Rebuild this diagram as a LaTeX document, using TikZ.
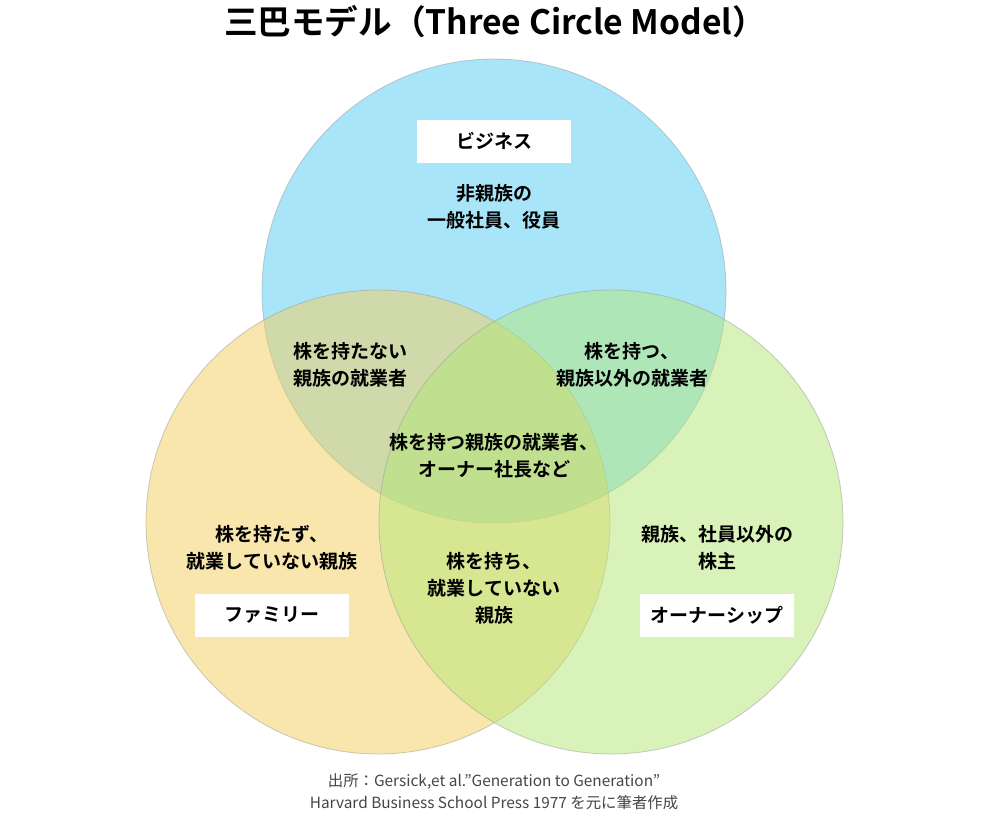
\documentclass[tikz,border=0pt]{standalone}
\usepackage{fontspec}
\newfontfamily\jpfont[BoldFont={Noto Sans CJK JP Bold}]{Noto Sans CJK JP}
\definecolor{bizblue}{RGB}{85,205,245}
\definecolor{famyellow}{RGB}{245,207,90}
\definecolor{owngreen}{RGB}{181,231,119}
\definecolor{notegray}{RGB}{70,70,70}
\begin{document}
\begin{tikzpicture}[x=1pt,y=-1pt,
  ring/.style={circle, minimum size=464pt, inner sep=0pt, draw=black!40, draw opacity=0.5, line width=0.8pt, fill opacity=0.5},
  tag/.style={fill=white, minimum width=154pt, minimum height=43pt, inner sep=0pt, font=\jpfont\bfseries\fontsize{19}{27}\selectfont},
  txt/.style={align=center, inner sep=0pt, font=\jpfont\bfseries\fontsize{19}{27}\selectfont}]
\fill[white] (0,0) rectangle (990,815);
\useasboundingbox (0,0) rectangle (990,815);
\node[font=\jpfont\bfseries\fontsize{33.6}{40}\selectfont] (title) at (495,22){三巴モデル（Three Circle Model）};
% circles
\node[ring, fill=bizblue] (biz) at (494,291){};
\node[ring, fill=famyellow] (fam) at (378,522){};
\node[ring, fill=owngreen] (own) at (611,522){};
% tags
\node[tag] (bizTag) at (494,141){ビジネス};
\node[tag] (famTag) at (272,615){ファミリー};
\node[tag] (ownTag) at (717,615){オーナーシップ};
% areas
\node[txt] (bizOnly) at (494,207){非親族の\\一般社員、役員};
\node[txt] (bizFam) at (350,365){株を持たない\\親族の就業者};
\node[txt] (bizOwn) at (632,365){株を持つ、\\親族以外の就業者};
\node[txt] (center) at (494,456){株を持つ親族の就業者、\\オーナー社長など};
\node[txt] (famOnly) at (272,548){株を持たず、\\就業していない親族};
\node[txt] (famOwn) at (494,588){株を持ち、\\就業していない\\親族};
\node[txt] (ownOnly) at (717,548){親族、社員以外の\\株主};
% source
\node[align=center, inner sep=0pt, text=notegray, font=\jpfont\fontsize{15.4}{22}\selectfont] (note) at (494,792){出所：Gersick,et al.”Generation to Generation”\\Harvard Business School Press 1977 を元に筆者作成};
\end{tikzpicture}
\end{document}
